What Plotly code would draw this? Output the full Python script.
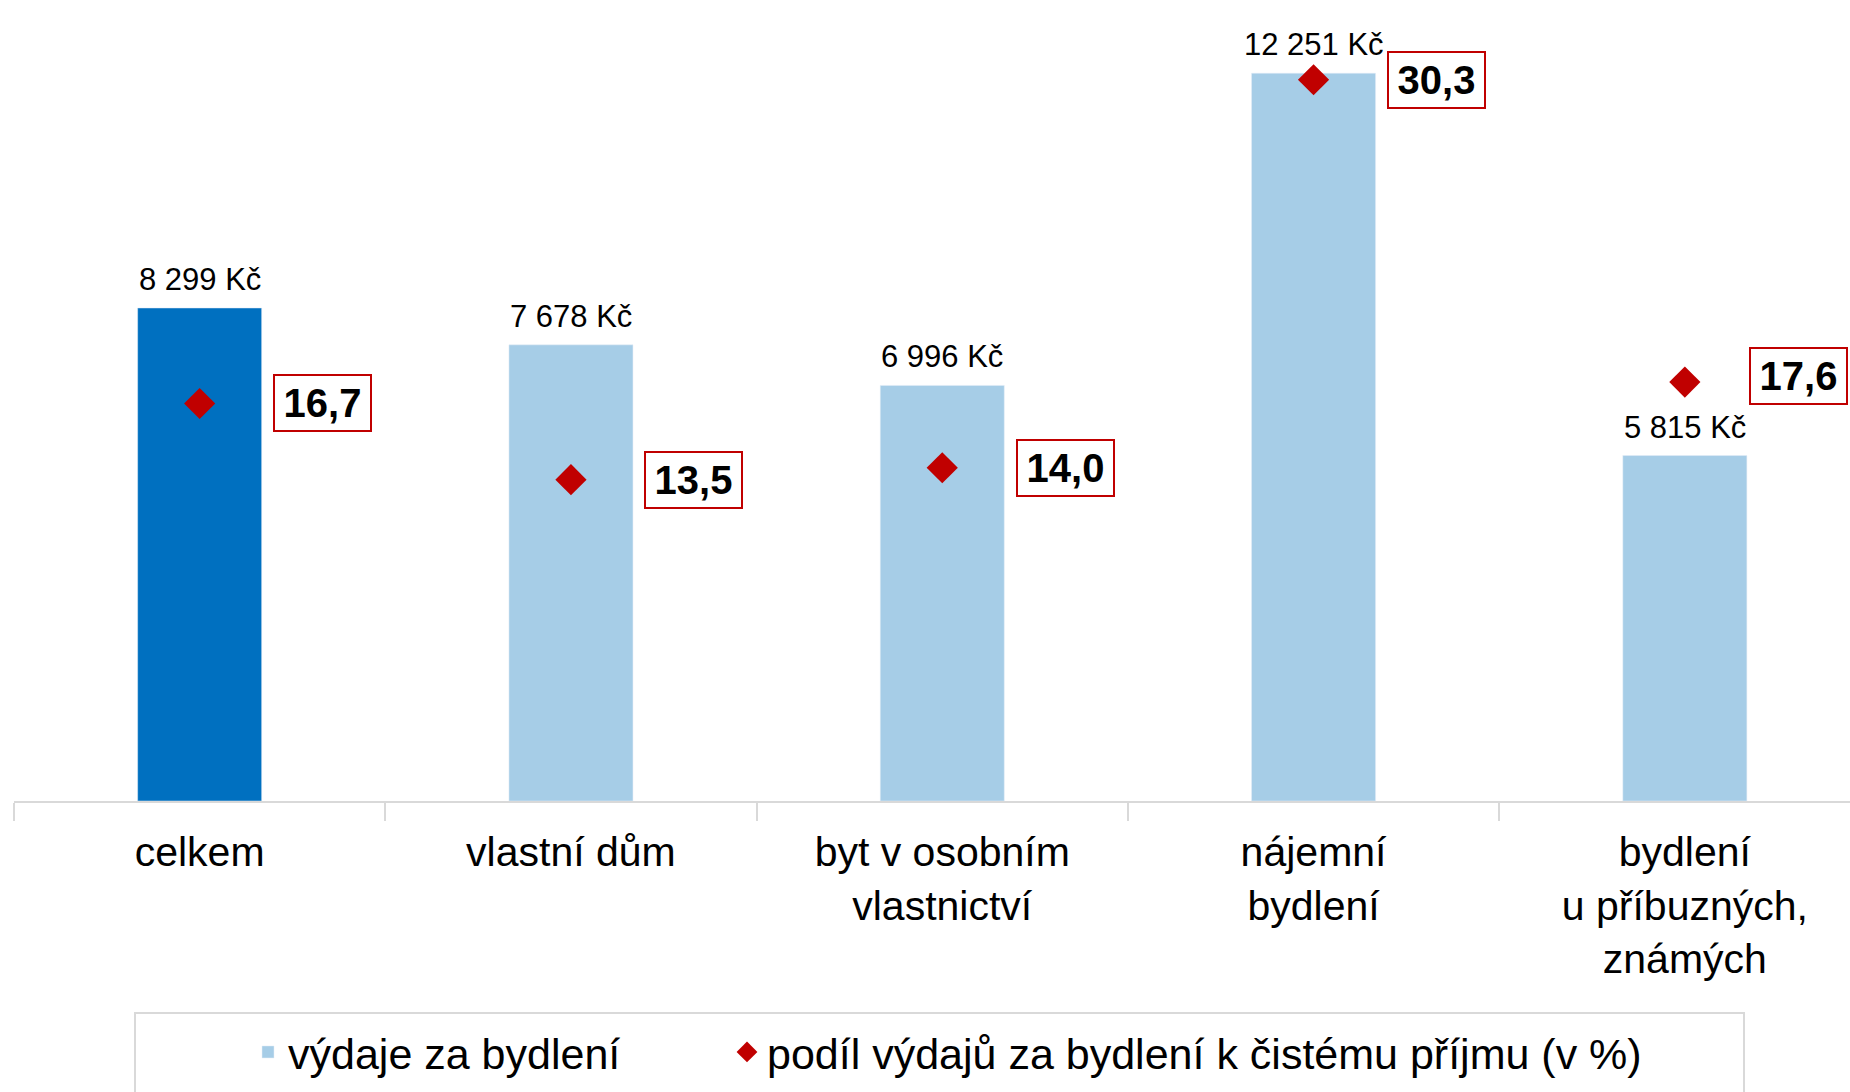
import plotly.graph_objects as go

categories = ["celkem", "vlastní dům", "byt v osobním<br>vlastnictví", "nájemní<br>bydlení",
              "bydlení<br>u příbuzných,<br>známých"]
vydaje = [8299, 7678, 6996, 12251, 5815]
podil = [16.7, 13.5, 14.0, 30.3, 17.6]

name_bar = "výdaje za bydlení"
name_pct = "podíl výdajů za bydlení k čistému příjmu (v %)"

DARK = "#0070C0"
LIGHT = "#A6CDE7"
RED = "#C00000"
GRID = "#D9D9D9"
FONT = "Liberation Sans, Arial, sans-serif"

def kc(v):
    return f"{v:,}".replace(",", " ") + " Kč"

def pct(v):
    return f"{v:.1f}".replace(".", ",")

fig = go.Figure()
fig.add_trace(go.Bar(x=categories[:1], y=vydaje[:1], marker_color=DARK, width=0.334,
                     showlegend=False, hoverinfo="skip"))
fig.add_trace(go.Bar(x=categories[1:], y=vydaje[1:], marker_color=LIGHT, width=0.334,
                     name=name_bar, legend="legend"))
fig.add_trace(go.Scatter(x=categories, y=podil, yaxis="y2", mode="markers",
                         marker=dict(symbol="diamond", size=24, color=RED),
                         name=name_pct, legend="legend2"))

annotations = []
for c, v in zip(categories, vydaje):
    annotations.append(dict(x=c, y=v, xref="x", yref="y", text=kc(v), showarrow=False,
                            yanchor="bottom", yshift=9,
                            font=dict(family=FONT, size=31, color="black")))
label_dx = [123, 123, 123, 123, 114]
label_dy = [0, 0, 0, 0, 6]
for c, v, dx, dy in zip(categories, podil, label_dx, label_dy):
    annotations.append(dict(x=c, y=v, xref="x", yref="y2", text="<b>" + pct(v) + "</b>",
                            showarrow=False, xshift=dx, yshift=dy,
                            width=91, height=50, borderpad=2, borderwidth=2,
                            bordercolor=RED, bgcolor="white",
                            font=dict(family=FONT, size=40, color="black")))

W, H = 1850, 1092
L, B = 14, 291
plot_w = W - L
cat_w = 371.3
x_max = -0.5 + plot_w / cat_w

def py(ypix):
    return (H - B - ypix) / (H - B)

def px(xpix):
    return (xpix - L) / plot_w

legend_common = dict(orientation="h", xref="container", yref="container",
                     xanchor="left", y=(H - 1052) / H, yanchor="middle",
                     font=dict(size=43, color="black"), bgcolor="rgba(0,0,0,0)",
                     itemwidth=30)

fig.update_layout(
    width=W, height=H,
    margin=dict(l=L, r=0, t=0, b=B, autoexpand=False),
    plot_bgcolor="white", paper_bgcolor="white",
    barmode="overlay",
    font=dict(family=FONT, size=40, color="black"),
    xaxis=dict(range=[-0.5, x_max], showgrid=False, showline=True, linecolor=GRID, linewidth=2,
               ticks="outside", tickson="boundaries", ticklen=18, tickcolor=GRID, tickwidth=2,
               ticklabelstandoff=14, automargin=False,
               tickfont=dict(size=41, color="black"), zeroline=False),
    yaxis=dict(range=[0, 13483], visible=False, showgrid=False, zeroline=False),
    yaxis2=dict(range=[0, 33.65], overlaying="y", visible=False, showgrid=False, zeroline=False),
    legend=dict(x=248 / W, **legend_common),
    legend2=dict(x=727 / W, **legend_common),
    annotations=annotations,
    shapes=[dict(type="rect", xref="paper", yref="paper", x0=px(135), x1=px(1744),
                 y0=py(1013), y1=py(1120), line=dict(color=GRID, width=2),
                 fillcolor="rgba(0,0,0,0)", layer="below")],
)

fig.write_html("out.html", config={"displayModeBar": False},
               post_script="document.body.style.margin='0';")
